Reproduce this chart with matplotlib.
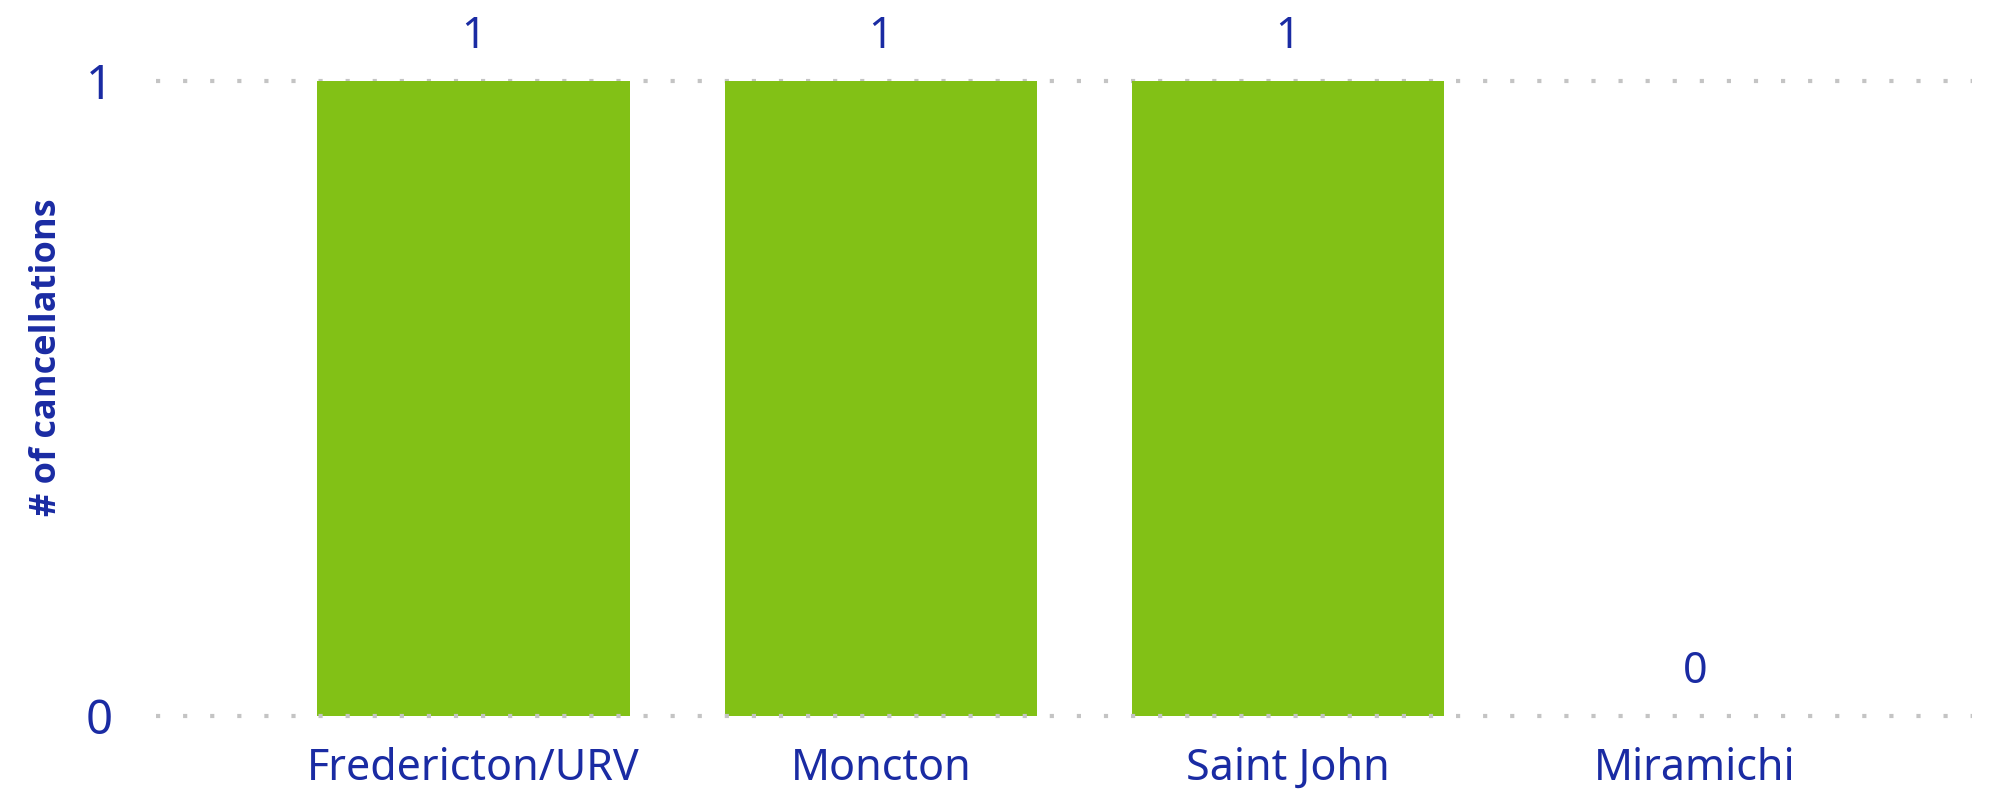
import matplotlib.pyplot as plt

regions = ["Fredericton/URV", "Moncton", "Saint John", "Miramichi"]
cancellations = [1, 1, 1, 0]

text_color = "#1a2ba3"
bar_color = "#82c116"
grid_color = "#c4c4c4"

plt.rcParams['font.family'] = ['Noto Sans', 'DejaVu Sans']

fig = plt.figure(figsize=(19.96, 7.99), dpi=100)
ax = fig.add_axes([156 / 1996, 1 - 716 / 799, (1972 - 156) / 1996, (716 - 81) / 799])

x = list(range(len(regions)))
ax.bar(x, cancellations, width=0.767, color=bar_color, zorder=2)

for xi, v in zip(x, cancellations):
    ax.text(xi, v + 0.035, str(v), ha='center', va='bottom', fontsize=31,
            color=text_color, clip_on=False)

ax.set_xlim(-0.78, 3.68)
ax.set_ylim(0, 1)
ax.set_yticks([0, 1])
ax.set_yticklabels(["0", "1"])
ax.set_xticks(x)
ax.set_xticklabels(regions)
ax.tick_params(axis='both', length=0, colors=text_color)
ax.tick_params(axis='x', labelsize=31, pad=22)
ax.tick_params(axis='y', labelsize=34, pad=31)

for y in [0, 1]:
    ax.axhline(y, color=grid_color, linestyle=(0, (1, 5.5)), linewidth=3,
               zorder=3 if y == 0 else 1, clip_on=False)

for s in ax.spines.values():
    s.set_visible(False)

ax.set_ylabel("# of cancellations", fontsize=26, color=text_color,
              fontweight='bold', family=['Open Sans', 'DejaVu Sans'])
ax.yaxis.set_label_coords(-0.05, 0.565)

fig.savefig("out.png", dpi=100)
